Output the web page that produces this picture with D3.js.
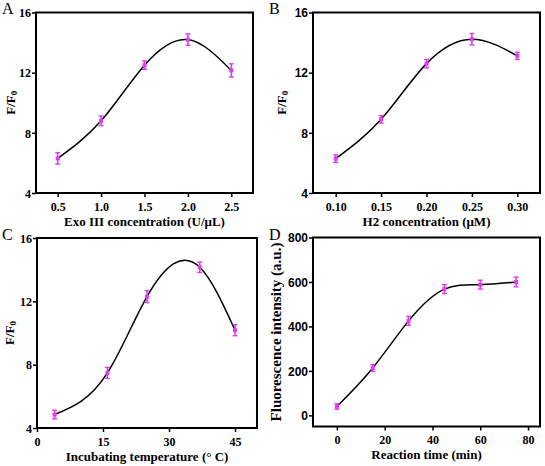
<!DOCTYPE html>
<html><head><meta charset="utf-8">
<script src="https://cdn.jsdelivr.net/npm/d3@7"></script>
<style>
html,body{margin:0;padding:0;background:#fff;}
svg{display:block;}
</style></head>
<body>
<svg id="chart" width="545" height="466"></svg>
<script>
// ---- Data ----
const aX = [0.5, 1.0, 1.5, 2.0, 2.5];
const aY = [6.3, 8.8, 12.5, 14.2, 12.15];
const aErr = [0.38, 0.32, 0.28, 0.38, 0.44];
const aXTicks = [0.5, 1.0, 1.5, 2.0, 2.5];
const aYTicks = [4, 8, 12, 16];

const bX = [0.10, 0.15, 0.20, 0.25, 0.30];
const bY = [6.28, 8.9, 12.6, 14.22, 13.12];
const bErr = [0.25, 0.25, 0.28, 0.38, 0.24];
const bXTicks = [0.10, 0.15, 0.20, 0.25, 0.30];
const bYTicks = [4, 8, 12, 16];

const cX = [4, 16, 25, 37, 45];
const cY = [4.85, 7.48, 12.3, 14.15, 10.18];
const cErr = [0.27, 0.35, 0.38, 0.33, 0.35];
const cXTicks = [0, 15, 30, 45];
const cYTicks = [4, 8, 12, 16];

const dX = [0, 15, 30, 45, 60, 75];
const dY = [40, 213, 425, 568, 588, 600];
const dErr = [12, 15, 20, 20, 20, 22];
const dXTicks = [0, 20, 40, 60, 80];
const dYTicks = [0, 200, 400, 600, 800];

const panels = [
  {letter:"A", x:aX, y:aY, err:aErr, xDom:[0.25,2.75], yDom:[4,16], xTicks:aXTicks, yTicks:aYTicks,
   xFmt:d3.format(".1f"), yFmt:d3.format("d"), xTitle:"Exo III concentration (U/\u03bcL)", yTitle:"F/F", ySub:"0",
   box:{l:36,r:253,t:12.5,b:193}, yTickSans:false, yTitleOff:-24, yTitleSize:13, letterPos:[2,14]},
  {letter:"B", x:bX, y:bY, err:bErr, xDom:[0.075,0.325], yDom:[4,16], xTicks:bXTicks, yTicks:bYTicks,
   xFmt:d3.format(".2f"), yFmt:d3.format("d"), xTitle:"H2 concentration (\u03bcM)", yTitle:"F/F", ySub:"0",
   box:{l:313,r:540,t:12.5,b:193}, yTickSans:true, yTitleOff:-30, yTitleSize:13, letterPos:[269,14]},
  {letter:"C", x:cX, y:cY, err:cErr, xDom:[0,50], yDom:[4,16], xTicks:cXTicks, yTicks:cYTicks,
   xFmt:d3.format("d"), yFmt:d3.format("d"), xTitle:"Incubating temperature (\u00b0 C)", yTitle:"F/F", ySub:"0",
   box:{l:37,r:257,t:238,b:428}, yTickSans:false, yTitleOff:-26, yTitleSize:13, letterPos:[2,240]},
  {letter:"D", x:dX, y:dY, err:dErr, xDom:[-10,85], yDom:[-50,800], xTicks:dXTicks, yTicks:dYTicks,
   xFmt:d3.format("d"), yFmt:d3.format("d"), xTitle:"Reaction time (min)", yTitle:"Fluorescence intensity (a.u.)", ySub:null,
   box:{l:313,r:540,t:237.5,b:426.5}, yTickSans:true, yTitleOff:-35, yTitleSize:15, letterPos:[269,240]}
];

// Natural cubic spline with y as a function of x (custom d3 curve factory)
function curveNaturalX(context) {
  let xs = [], ys = [];
  return {
    areaStart(){}, areaEnd(){},
    lineStart(){ xs = []; ys = []; },
    point(x, y){ xs.push(+x); ys.push(+y); },
    lineEnd(){
      const n = xs.length;
      if (!n) return;
      context.moveTo(xs[0], ys[0]);
      if (n === 1) return;
      if (n === 2) { context.lineTo(xs[1], ys[1]); return; }
      const h = [], s = [];
      for (let i = 0; i < n - 1; i++) { h.push(xs[i+1]-xs[i]); s.push((ys[i+1]-ys[i])/h[i]); }
      // solve tridiagonal for second derivatives M (M0 = Mn-1 = 0)
      const m = n - 2, a = [], b = [], c = [], r = [];
      for (let i = 1; i <= m; i++) {
        a.push(h[i-1]); b.push(2*(h[i-1]+h[i])); c.push(h[i]); r.push(6*(s[i]-s[i-1]));
      }
      for (let i = 1; i < m; i++) {
        const w = a[i]/b[i-1];
        b[i] -= w*c[i-1]; r[i] -= w*r[i-1];
      }
      const Mi = new Array(m);
      Mi[m-1] = r[m-1]/b[m-1];
      for (let i = m-2; i >= 0; i--) Mi[i] = (r[i]-c[i]*Mi[i+1])/b[i];
      const M = [0, ...Mi, 0];
      for (let i = 0; i < n - 1; i++) {
        const d0 = s[i] - h[i]*(2*M[i]+M[i+1])/6;
        const d1 = s[i] + h[i]*(M[i]+2*M[i+1])/6;
        context.bezierCurveTo(
          xs[i] + h[i]/3, ys[i] + d0*h[i]/3,
          xs[i+1] - h[i]/3, ys[i+1] - d1*h[i]/3,
          xs[i+1], ys[i+1]);
      }
    }
  };
}

const svg = d3.select("#chart");
const serif = "'Liberation Serif','Times New Roman',serif";
const sans = "'Liberation Sans',Arial,sans-serif";
const markColor = "#e23cf0";

panels.forEach(p => {
  const B = p.box;
  const x = d3.scaleLinear().domain(p.xDom).range([B.l, B.r]);
  const y = d3.scaleLinear().domain(p.yDom).range([B.b, B.t]);
  const g = svg.append("g");

  // curve
  const pts = p.x.map((v,i)=>[v,p.y[i]]);
  g.append("path").datum(pts)
    .attr("d", d3.line().x(d=>x(d[0])).y(d=>y(d[1])).curve(curveNaturalX))
    .attr("fill","none").attr("stroke","#000").attr("stroke-width",1.5);

  // error bars
  const eb = g.append("g").selectAll("g").data(pts.map((d,i)=>({x:d[0],y:d[1],e:p.err[i]}))).join("g");
  eb.append("line").attr("x1",d=>x(d.x)).attr("x2",d=>x(d.x))
    .attr("y1",d=>y(d.y-d.e)).attr("y2",d=>y(d.y+d.e))
    .attr("stroke",markColor).attr("stroke-width",1.6);
  eb.append("line").attr("x1",d=>x(d.x)-2.5).attr("x2",d=>x(d.x)+2.5)
    .attr("y1",d=>y(d.y-d.e)).attr("y2",d=>y(d.y-d.e))
    .attr("stroke",markColor).attr("stroke-width",1.4);
  eb.append("line").attr("x1",d=>x(d.x)-2.5).attr("x2",d=>x(d.x)+2.5)
    .attr("y1",d=>y(d.y+d.e)).attr("y2",d=>y(d.y+d.e))
    .attr("stroke",markColor).attr("stroke-width",1.4);
  eb.append("rect").attr("x",d=>x(d.x)-2).attr("y",d=>y(d.y)-2)
    .attr("width",4).attr("height",4).attr("fill",markColor);

  // axes
  const xAxis = g.append("g").attr("transform",`translate(0,${B.b})`)
    .call(d3.axisBottom(x).tickValues(p.xTicks).tickFormat(p.xFmt).tickSize(4).tickSizeOuter(0));
  const yAxis = g.append("g").attr("transform",`translate(${B.l},0)`)
    .call(d3.axisLeft(y).tickValues(p.yTicks).tickFormat(p.yFmt).tickSize(4).tickSizeOuter(0));
  [xAxis,yAxis].forEach(a=>{
    a.select(".domain").remove();
    a.selectAll(".tick line").attr("stroke","#000").attr("stroke-width",1.5);
  });
  xAxis.selectAll(".tick text").attr("font-family",serif).attr("font-weight","bold")
    .attr("font-size",12).attr("fill","#000").attr("dy","0").attr("y",17.5);
  yAxis.selectAll(".tick text").attr("font-family",p.yTickSans?sans:serif).attr("font-weight","bold")
    .attr("font-size",12).attr("fill","#000").attr("x",-5).attr("dy","0.35em");

  // frame
  g.append("rect").attr("x",B.l).attr("y",B.t).attr("width",B.r-B.l).attr("height",B.b-B.t)
    .attr("fill","none").attr("stroke","#000").attr("stroke-width",2);

  // x title
  g.append("text").attr("x",(B.l+B.r)/2).attr("y",B.b+32.5).attr("text-anchor","middle")
    .attr("font-family",serif).attr("font-weight","bold").attr("font-size",13).text(p.xTitle);

  // y title
  const yt = g.append("text")
    .attr("transform",`translate(${B.l+p.yTitleOff},${(B.t+B.b)/2}) rotate(-90)`)
    .attr("text-anchor","middle").attr("dominant-baseline","middle")
    .attr("font-family",serif).attr("font-weight","bold").attr("font-size",p.yTitleSize);
  yt.append("tspan").text(p.yTitle);
  if (p.ySub) yt.append("tspan").attr("font-size",9).attr("dy",3).text(p.ySub);

  // panel letter
  g.append("text").attr("x",p.letterPos[0]).attr("y",p.letterPos[1])
    .attr("font-family",serif).attr("font-size",16).text(p.letter);
});
</script>
</body></html>
